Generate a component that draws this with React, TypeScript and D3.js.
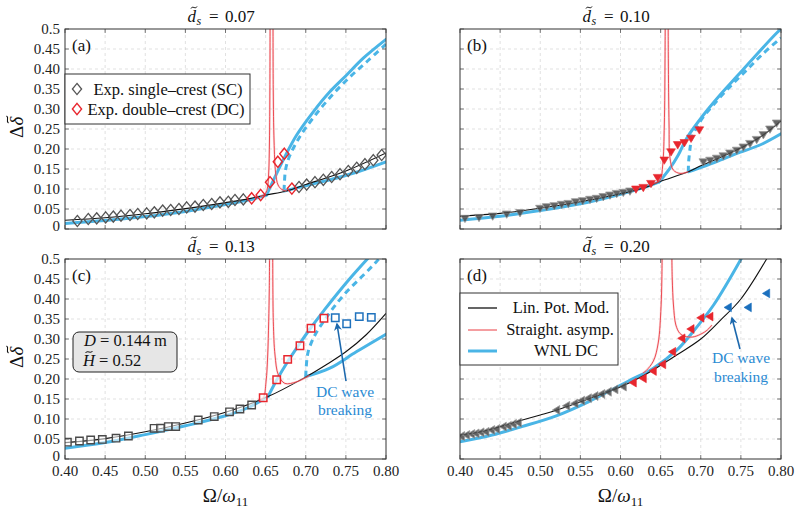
import React from 'react';
import * as d3 from 'd3';

type P = [number, number];

// ---------- axes ----------
const xTicks = [0.4, 0.45, 0.5, 0.55, 0.6, 0.65, 0.7, 0.75, 0.8];
const xTickLabels = ['0.40', '0.45', '0.50', '0.55', '0.60', '0.65', '0.70', '0.75', '0.80'];
const yTicks = [0, 0.05, 0.1, 0.15, 0.2, 0.25, 0.3, 0.35, 0.4, 0.45, 0.5];
const yTickLabels = ['0', '0.05', '0.10', '0.15', '0.20', '0.25', '0.30', '0.35', '0.40', '0.45', '0.5'];
const dsValues = ['0.07', '0.10', '0.13', '0.20'];
const panelLetters = ['(a)', '(b)', '(c)', '(d)'];

// ---------- panel (a) d_s = 0.07 ----------
const aSC1: P[] = [[0.4154,0.02],[0.429,0.025],[0.4395,0.0267],[0.4507,0.029],[0.4602,0.031],[0.4698,0.0333],[0.481,0.035],[0.4906,0.0375],[0.5018,0.039],[0.5113,0.0417],[0.5217,0.046],[0.5317,0.0475],[0.542,0.05],[0.5516,0.054],[0.562,0.056],[0.5723,0.06],[0.5828,0.0625],[0.5931,0.0667],[0.6035,0.068],[0.6118,0.0725],[0.6222,0.074]];
const aSC2: P[] = [[0.6916,0.105],[0.7011,0.111],[0.7115,0.117],[0.7219,0.123],[0.7323,0.13],[0.7427,0.137],[0.753,0.145],[0.7635,0.153],[0.7738,0.162],[0.7842,0.172],[0.7946,0.185]];
const aDC: P[] = [[0.6326,0.0767],[0.6438,0.085],[0.6555,0.117],[0.6652,0.168],[0.6733,0.188],[0.6827,0.101]];
const aLin: P[] = [[0.4,0.022],[0.45,0.028],[0.5,0.038],[0.55,0.051],[0.6,0.066],[0.63,0.076],[0.651,0.085],[0.676,0.095],[0.7,0.111],[0.75,0.145],[0.8,0.19]];
const aWnlLow: P[] = [[0.4,0.014],[0.45,0.021],[0.5,0.031],[0.55,0.044],[0.6,0.061],[0.63,0.073],[0.651,0.085]];
const aWnlUp: P[] = [[0.651,0.085],[0.6638,0.139],[0.674,0.181],[0.6887,0.235],[0.7094,0.293],[0.73,0.343],[0.751,0.385],[0.7717,0.427],[0.8,0.474]];
const aWnlDash: P[] = [[0.673,0.095],[0.6735,0.12],[0.675,0.15],[0.68,0.183],[0.693,0.232],[0.712,0.285],[0.733,0.335],[0.755,0.38],[0.777,0.42],[0.8,0.462]];
const aWnlLow2: P[] = [[0.673,0.095],[0.7,0.108],[0.73,0.123],[0.76,0.14],[0.8,0.168]];
const aAsymL: P[] = [[0.643,0.081],[0.649,0.087],[0.652,0.1],[0.6538,0.14],[0.6548,0.22],[0.6553,0.35],[0.6556,0.54]];
const aAsymR: P[] = [[0.6592,0.54],[0.6595,0.35],[0.6605,0.22],[0.6625,0.14],[0.6655,0.11],[0.67,0.099],[0.676,0.095]];

// ---------- panel (b) d_s = 0.10 ----------
const bSC1: P[] = [[0.4062,0.0267],[0.4237,0.029],[0.4407,0.0325],[0.4582,0.0375],[0.4748,0.041],[0.4997,0.0517],[0.508,0.0558],[0.5175,0.0583],[0.5267,0.0617],[0.535,0.064],[0.5442,0.0683],[0.5529,0.0708],[0.562,0.0742],[0.5703,0.0767],[0.5786,0.081],[0.5869,0.085],[0.5953,0.089],[0.6035,0.0917],[0.6118,0.095]];
const bSC2: P[] = [[0.7033,0.168],[0.7116,0.172],[0.72,0.177],[0.7282,0.183],[0.7365,0.19],[0.7449,0.197],[0.7531,0.205],[0.7614,0.214],[0.7697,0.224],[0.778,0.236],[0.7863,0.25],[0.7946,0.265]];
const bDC: P[] = [[0.6193,0.1],[0.6284,0.104],[0.638,0.114],[0.6463,0.129],[0.6546,0.1725],[0.663,0.193],[0.6713,0.211],[0.6796,0.216],[0.6879,0.227],[0.6982,0.248]];
const bLin: P[] = [[0.4,0.032],[0.45,0.039],[0.5,0.052],[0.55,0.068],[0.6,0.088],[0.63,0.103],[0.6484,0.118],[0.6845,0.143],[0.7,0.158],[0.72,0.175],[0.74,0.193],[0.76,0.213],[0.78,0.238],[0.8,0.27]];
const bWnlLow: P[] = [[0.4,0.022],[0.45,0.032],[0.5,0.046],[0.55,0.063],[0.6,0.087],[0.63,0.104],[0.6484,0.118]];
const bWnlUp: P[] = [[0.6484,0.118],[0.6617,0.152],[0.672,0.185],[0.6825,0.227],[0.7033,0.285],[0.724,0.335],[0.7448,0.381],[0.7655,0.427],[0.7946,0.49],[0.803,0.505]];
const bWnlDash: P[] = [[0.6845,0.143],[0.6848,0.165],[0.6866,0.2],[0.6887,0.227],[0.699,0.268],[0.7156,0.31],[0.7365,0.356],[0.7573,0.3975],[0.778,0.439],[0.8,0.478]];
const bWnlLow2: P[] = [[0.6845,0.143],[0.7033,0.156],[0.724,0.172],[0.745,0.189],[0.7738,0.21],[0.8,0.238]];
const bAsymL: P[] = [[0.64,0.113],[0.6492,0.122],[0.6526,0.16],[0.6546,0.26],[0.6555,0.427],[0.6558,0.54]];
const bAsymR: P[] = [[0.6594,0.54],[0.6596,0.427],[0.6605,0.26],[0.6617,0.177],[0.6658,0.1475],[0.6741,0.139],[0.6845,0.143]];

// ---------- panel (c) d_s = 0.13 ----------
const cSC: P[] = [[0.403,0.042],[0.418,0.045],[0.432,0.0475],[0.4465,0.049],[0.4636,0.052],[0.479,0.0575],[0.511,0.0767],[0.519,0.077],[0.5287,0.081],[0.538,0.081],[0.566,0.0975],[0.586,0.106],[0.605,0.118],[0.618,0.125],[0.6326,0.135]];
const cDC: P[] = [[0.647,0.153],[0.6638,0.198],[0.6775,0.249],[0.6928,0.283],[0.7066,0.3267],[0.7227,0.3517]];
const cBreak: P[] = [[0.7368,0.353],[0.751,0.338],[0.7667,0.356],[0.7817,0.354]];
const cLin: P[] = [[0.4,0.041],[0.45,0.051],[0.5,0.068],[0.55,0.09],[0.6,0.117],[0.653,0.156],[0.7,0.205],[0.725,0.235],[0.75,0.268],[0.775,0.31],[0.8,0.364]];
const cWnlLow: P[] = [[0.4,0.027],[0.45,0.041],[0.5,0.061],[0.55,0.083],[0.6,0.108],[0.63,0.13],[0.653,0.156]];
const cWnlUp: P[] = [[0.653,0.156],[0.664,0.198],[0.678,0.245],[0.693,0.29],[0.707,0.33],[0.723,0.372],[0.74,0.415],[0.758,0.458],[0.779,0.505]];
const cWnlDash: P[] = [[0.7,0.206],[0.7005,0.227],[0.703,0.268],[0.7115,0.31],[0.722,0.343],[0.734,0.377],[0.751,0.418],[0.772,0.46],[0.788,0.493],[0.8,0.52]];
const cWnlLow2: P[] = [[0.7,0.206],[0.73,0.227],[0.763,0.268],[0.8,0.312]];
const cAsymL: P[] = [[0.641,0.148],[0.647,0.153],[0.6505,0.193],[0.6526,0.26],[0.6538,0.343],[0.6546,0.427],[0.655,0.54]];
const cAsymR: P[] = [[0.6588,0.54],[0.6596,0.343],[0.6617,0.26],[0.6659,0.21],[0.674,0.189],[0.6887,0.193],[0.705,0.209]];

// ---------- panel (d) d_s = 0.20 ----------
const dSC1: P[] = [[0.402,0.0575],[0.4083,0.06],[0.4146,0.0625],[0.42,0.064],[0.4262,0.0667],[0.4324,0.068],[0.4395,0.0725],[0.4457,0.075],[0.454,0.081],[0.4602,0.083],[0.4665,0.0875],[0.4727,0.091]];
const dSC2: P[] = [[0.5205,0.1225],[0.533,0.133],[0.5433,0.139],[0.5516,0.146],[0.56,0.152],[0.5682,0.1575],[0.5766,0.1625],[0.5848,0.168],[0.5931,0.174],[0.6035,0.181]];
const dDC: P[] = [[0.616,0.191],[0.6284,0.2017],[0.6409,0.22],[0.6526,0.2367],[0.665,0.268],[0.6766,0.3017],[0.6879,0.325],[0.7003,0.353],[0.7115,0.356]];
const dBreak: P[] = [[0.7344,0.379],[0.7593,0.379],[0.7822,0.414]];
const dLin: P[] = [[0.4,0.06],[0.43,0.07],[0.47,0.093],[0.5,0.11],[0.52,0.122],[0.56,0.15],[0.6,0.18],[0.63,0.21],[0.67,0.26],[0.7,0.3],[0.725,0.348],[0.75,0.4],[0.785,0.51]];
const dWnl: P[] = [[0.4,0.043],[0.44,0.06],[0.477,0.081],[0.52,0.108],[0.56,0.143],[0.61,0.195],[0.641,0.227],[0.67,0.272],[0.687,0.31],[0.716,0.385],[0.753,0.51]];
const dAsymL: P[] = [[0.628,0.215],[0.632,0.221],[0.641,0.245],[0.647,0.29],[0.6505,0.38],[0.6515,0.45],[0.652,0.54]];
const dAsymR: P[] = [[0.6638,0.54],[0.6645,0.45],[0.666,0.385],[0.669,0.335],[0.674,0.314],[0.68,0.307],[0.69,0.305],[0.7,0.312],[0.708,0.322],[0.714,0.335]];

// ---------- styles ----------
const BLUE = '#4ab5e6';
const RED = '#e8262e';
const FONT = '"Liberation Serif", "Times New Roman", serif';
const PW = 321;
const PH = 200;

type LineKind = 'lin' | 'wnl' | 'dash' | 'asym';
type Shape = 'diamond' | 'square' | 'triDown' | 'triLeft';
interface Mk { data: P[]; shape: Shape; stroke: string; fill: string; opacity?: number; sw?: number }
interface PanelCfg {
  key: string; left: number; top: number; ds: string; letter: string;
  showX: boolean; showY: boolean;
  lines: { data: P[]; kind: LineKind }[];
  markers: Mk[];
}

const shapePath: Record<Shape, string> = {
  diamond: 'M0,-5.6L4.6,0L0,5.6L-4.6,0Z',
  square: 'M-3.7,-3.7h7.4v7.4h-7.4Z',
  triDown: 'M-4.4,-3L4.4,-3L0,4.3Z',
  triLeft: 'M-4.3,0L3,-4.4L3,4.4Z',
};

// small tilde accent drawn as a path centred at (cx, cy)
const tilde = (cx: number, cy: number, w: number) =>
  `M${cx - w / 2},${cy + 1} C${cx - w / 4},${cy - 2.2} ${cx + w / 4},${cy + 2.2} ${cx + w / 2},${cy - 1}`;

const panels: PanelCfg[] = [
  {
    key: 'a', left: 65, top: 29, ds: dsValues[0], letter: panelLetters[0], showX: false, showY: true,
    lines: [
      { data: aWnlLow, kind: 'wnl' }, { data: aWnlUp, kind: 'wnl' }, { data: aWnlLow2, kind: 'wnl' }, { data: aWnlDash, kind: 'dash' },
      { data: aLin, kind: 'lin' }, { data: aAsymL, kind: 'asym' }, { data: aAsymR, kind: 'asym' },
    ],
    markers: [
      { data: aSC1, shape: 'diamond', stroke: '#555', fill: 'none', sw: 1.3 },
      { data: aSC2, shape: 'diamond', stroke: '#555', fill: 'none', sw: 1.3 },
      { data: aDC, shape: 'diamond', stroke: RED, fill: 'none', sw: 1.4 },
    ],
  },
  {
    key: 'b', left: 460, top: 29, ds: dsValues[1], letter: panelLetters[1], showX: false, showY: false,
    lines: [
      { data: bWnlLow, kind: 'wnl' }, { data: bWnlUp, kind: 'wnl' }, { data: bWnlLow2, kind: 'wnl' }, { data: bWnlDash, kind: 'dash' },
      { data: bLin, kind: 'lin' }, { data: bAsymL, kind: 'asym' }, { data: bAsymR, kind: 'asym' },
    ],
    markers: [
      { data: bSC1, shape: 'triDown', stroke: '#8a8a8a', fill: '#4a4a4a', opacity: 0.85, sw: 0.8 },
      { data: bSC2, shape: 'triDown', stroke: '#8a8a8a', fill: '#4a4a4a', opacity: 0.85, sw: 0.8 },
      { data: bDC, shape: 'triDown', stroke: RED, fill: RED, sw: 0.6 },
    ],
  },
  {
    key: 'c', left: 65, top: 259, ds: dsValues[2], letter: panelLetters[2], showX: true, showY: true,
    lines: [
      { data: cWnlLow, kind: 'wnl' }, { data: cWnlUp, kind: 'wnl' }, { data: cWnlLow2, kind: 'wnl' }, { data: cWnlDash, kind: 'dash' },
      { data: cLin, kind: 'lin' }, { data: cAsymL, kind: 'asym' }, { data: cAsymR, kind: 'asym' },
    ],
    markers: [
      { data: cSC, shape: 'square', stroke: '#4a4a4a', fill: 'rgba(255,255,255,0.55)', sw: 1.4 },
      { data: cDC, shape: 'square', stroke: RED, fill: 'rgba(255,255,255,0.7)', sw: 1.5 },
      { data: cBreak, shape: 'square', stroke: '#1f72bd', fill: 'rgba(255,255,255,0.7)', sw: 1.5 },
    ],
  },
  {
    key: 'd', left: 460, top: 259, ds: dsValues[3], letter: panelLetters[3], showX: true, showY: false,
    lines: [
      { data: dWnl, kind: 'wnl' }, { data: dLin, kind: 'lin' }, { data: dAsymL, kind: 'asym' }, { data: dAsymR, kind: 'asym' },
    ],
    markers: [
      { data: dSC1, shape: 'triLeft', stroke: '#8a8a8a', fill: '#4a4a4a', opacity: 0.85, sw: 0.8 },
      { data: dSC2, shape: 'triLeft', stroke: '#8a8a8a', fill: '#4a4a4a', opacity: 0.85, sw: 0.8 },
      { data: dDC, shape: 'triLeft', stroke: RED, fill: RED, sw: 0.6 },
      { data: dBreak, shape: 'triLeft', stroke: '#1a6fbd', fill: '#1a6fbd', sw: 0.6 },
    ],
  },
];

function Panel({ cfg }: { cfg: PanelCfg }) {
  const x = d3.scaleLinear().domain([0.4, 0.8]).range([cfg.left, cfg.left + PW]);
  const y = d3.scaleLinear().domain([0, 0.5]).range([cfg.top + PH, cfg.top]);
  const line = d3.line<P>().x((d) => x(d[0])).y((d) => y(d[1])).curve(d3.curveCatmullRom.alpha(0.5));
  const clip = `clip-${cfg.key}`;
  const cx = cfg.left + PW / 2;
  const tb = cfg.top - 7.5; // title baseline
  const cy = cfg.top + PH / 2 - 3;
  return (
    <g>
      <defs>
        <clipPath id={clip}>
          <rect x={cfg.left} y={cfg.top} width={PW} height={PH} />
        </clipPath>
      </defs>
      {/* grid */}
      <g stroke="#d9d9d9" strokeWidth={0.8} strokeDasharray="3,3">
        {xTicks.slice(1, -1).map((t) => (
          <line key={'gx' + t} x1={x(t)} x2={x(t)} y1={cfg.top} y2={cfg.top + PH} />
        ))}
        {yTicks.slice(1, -1).map((t) => (
          <line key={'gy' + t} x1={cfg.left} x2={cfg.left + PW} y1={y(t)} y2={y(t)} />
        ))}
      </g>
      {/* curves */}
      <g clipPath={`url(#${clip})`} fill="none">
        {cfg.lines.map((l, i) => {
          const d = line(l.data) || '';
          if (l.kind === 'wnl') return <path key={i} d={d} stroke={BLUE} strokeWidth={3} strokeLinecap="round" />;
          if (l.kind === 'dash') return <path key={i} d={d} stroke={BLUE} strokeWidth={3} strokeDasharray="6,4.5" />;
          if (l.kind === 'lin') return <path key={i} d={d} stroke="#111" strokeWidth={1.1} />;
          return (
            <g key={i}>
              <path d={d} stroke="#f6b4b7" strokeWidth={2.2} opacity={0.45} />
              <path d={d} stroke={RED} strokeWidth={0.8} />
            </g>
          );
        })}
      </g>
      {/* markers */}
      <g clipPath={`url(#${clip})`}>
        {cfg.markers.map((m, i) => (
          <g key={i} fill={m.fill} stroke={m.stroke} strokeWidth={m.sw ?? 1.2} opacity={m.opacity ?? 1} strokeLinejoin="miter">
            {m.data.map((p, j) => (
              <path key={j} d={shapePath[m.shape]} transform={`translate(${x(p[0])},${y(p[1])})`} />
            ))}
          </g>
        ))}
      </g>
      {/* ticks */}
      <g stroke="#555" strokeWidth={0.8}>
        {xTicks.map((t) => (
          <g key={'tx' + t}>
            <line x1={x(t)} x2={x(t)} y1={cfg.top + PH} y2={cfg.top + PH - 4} />
            <line x1={x(t)} x2={x(t)} y1={cfg.top} y2={cfg.top + 4} />
          </g>
        ))}
        {yTicks.map((t) => (
          <g key={'ty' + t}>
            <line x1={cfg.left} x2={cfg.left + 4} y1={y(t)} y2={y(t)} />
            <line x1={cfg.left + PW} x2={cfg.left + PW - 4} y1={y(t)} y2={y(t)} />
          </g>
        ))}
      </g>
      <rect x={cfg.left} y={cfg.top} width={PW} height={PH} fill="none" stroke="#333" strokeWidth={1} />
      {/* tick labels */}
      {cfg.showY && (
        <g fontFamily={FONT} fontSize={15} fill="#222" textAnchor="end">
          {yTicks.map((t, i) => (
            <text key={'ly' + t} x={cfg.left - 5} y={y(t) + (i === 0 ? 2 : 5)}>{yTickLabels[i]}</text>
          ))}
        </g>
      )}
      {cfg.showX && (
        <g fontFamily={FONT} fontSize={15} fill="#222" textAnchor="middle">
          {xTicks.map((t, i) => (
            <text key={'lx' + t} x={x(t)} y={cfg.top + PH + 17}>{xTickLabels[i]}</text>
          ))}
        </g>
      )}
      {/* title: d~_s = value */}
      <g fontFamily={FONT} fill="#111">
        <text x={cx - 38} y={tb} fontSize={17} fontStyle="italic">d</text>
        <path d={tilde(cx - 31.5, tb - 14, 6)} fill="none" stroke="#111" strokeWidth={1} />
        <text x={cx - 29} y={tb + 3.5} fontSize={12} fontStyle="italic">s</text>
        <text x={cx - 16.5} y={tb} fontSize={17}>=</text>
        <text x={cx - 0.5} y={tb} fontSize={17}>{cfg.ds}</text>
      </g>
      {/* letter */}
      <text x={cfg.left + 7} y={cfg.top + 22} fontFamily={FONT} fontSize={17} fill="#111">{cfg.letter}</text>
      {/* axis labels */}
      {cfg.showY && (
        <g transform={`translate(23,${cy}) rotate(-90)`} fontFamily={FONT} fill="#111">
          <text x={-12} y={0} fontSize={19}>Δ</text>
          <text x={0.5} y={0} fontSize={19} fontStyle="italic">δ</text>
          <path d={tilde(6.5, -15.5, 7)} fill="none" stroke="#111" strokeWidth={1.1} />
        </g>
      )}
      {cfg.showX && (
        <text x={cx} y={cfg.top + PH + 43} fontFamily={FONT} fontSize={19} textAnchor="middle" fill="#111">
          <tspan>Ω/</tspan>
          <tspan fontStyle="italic">ω</tspan>
          <tspan fontSize={13} dy={4}>11</tspan>
        </text>
      )}
    </g>
  );
}

export default function App() {
  return (
    <svg width={799} height={511} style={{ position: 'absolute', left: 0, top: 0, background: '#fff' }}>
      <defs>
        <marker id="arrow" viewBox="0 0 10 10" refX="8" refY="5" markerWidth="5" markerHeight="5" orient="auto-start-reverse">
          <path d="M0,0L10,5L0,10L3,5Z" fill="#1c68ad" />
        </marker>
      </defs>
      <rect x={0} y={0} width={799} height={511} fill="#fff" />
      {panels.map((p) => <Panel key={p.key} cfg={p} />)}

      {/* legend (a) */}
      <g fontFamily={FONT} fontSize={16.5} fill="#111">
        <rect x={65} y={74} width={185} height={50} fill="#fff" stroke="#333" strokeWidth={1} />
        <path d={shapePath.diamond} transform="translate(77,89)" fill="none" stroke="#555" strokeWidth={1.3} />
        <path d={shapePath.diamond} transform="translate(77,109)" fill="none" stroke={RED} strokeWidth={1.4} />
        <text x={168} y={95} textAnchor="middle">Exp. single–crest (SC)</text>
        <text x={166} y={115} textAnchor="middle">Exp. double–crest (DC)</text>
      </g>

      {/* info box (c) */}
      <g fontFamily={FONT} fontSize={16.5} fill="#111">
        <rect x={73} y={332} width={104} height={40} rx={6} fill="#e6e6e6" stroke="#222" strokeWidth={1} />
        <text x={84} y={346}>
          <tspan fontStyle="italic">D</tspan>
          <tspan>{' = 0.144\u2009m'}</tspan>
        </text>
        <text x={83} y={366}>
          <tspan fontStyle="italic">H</tspan>
          <tspan>{' = 0.52'}</tspan>
        </text>
        <path d={tilde(89, 352, 7)} fill="none" stroke="#111" strokeWidth={1} />
      </g>

      {/* legend (d) */}
      <g fontFamily={FONT} fontSize={16.5} fill="#111">
        <rect x={460} y={293} width={158} height={72} fill="#fff" stroke="#333" strokeWidth={1} />
        <line x1={468} x2={497} y1={308} y2={308} stroke="#111" strokeWidth={1.3} />
        <line x1={468} x2={497} y1={330} y2={330} stroke={RED} strokeWidth={0.9} />
        <line x1={468} x2={497} y1={351} y2={351} stroke={BLUE} strokeWidth={3} />
        <text x={561} y={313} textAnchor="middle">Lin. Pot. Mod.</text>
        <text x={560} y={335} textAnchor="middle">Straight. asymp.</text>
        <text x={566} y={356} textAnchor="middle">WNL DC</text>
      </g>

      {/* DC wave breaking annotations */}
      <g fontFamily={FONT} fontSize={15.5} fill="#2b8bd3" textAnchor="middle">
        <text x={345} y={397}>DC wave</text>
        <text x={345} y={415}>breaking</text>
        <text x={741} y={363}>DC wave</text>
        <text x={741} y={382}>breaking</text>
      </g>
      <line x1={346} y1={381} x2={337} y2={324} stroke="#1c68ad" strokeWidth={1.6} markerEnd="url(#arrow)" />
      <line x1={740} y1={349} x2={732} y2={318} stroke="#1c68ad" strokeWidth={1.6} markerEnd="url(#arrow)" />
    </svg>
  );
}
